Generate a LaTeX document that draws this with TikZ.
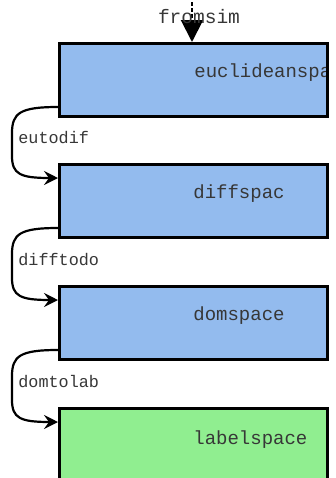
\documentclass[tikz,border=0pt]{standalone}
\usepackage{fontspec}
\newfontfamily\mono{Liberation Mono}
\usetikzlibrary{arrows.meta,calc}
\definecolor{boxblue}{RGB}{147,187,238}
\definecolor{boxgreen}{RGB}{144,238,144}
\definecolor{txt}{RGB}{55,55,55}
\tikzset{
  spacebox/.style={draw=black, line width=1.5pt, fill=boxblue, minimum width=134pt, minimum height=36.5pt, inner sep=0pt, anchor=north west},
  boxtext/.style={anchor=west, inner sep=0pt, font=\mono\fontsize{9.5pt}{11pt}\selectfont, text=txt},
  edgelabel/.style={anchor=west, inner sep=0pt, font=\mono\fontsize{8.4pt}{10pt}\selectfont, text=txt},
  flow/.style={draw=black, line width=1.1pt, -{Stealth[length=7pt,width=7pt,inset=2.5pt]}},
}
\begin{document}
\begin{tikzpicture}[x=0.5pt,y=-0.5pt]
\useasboundingbox (0,0) rectangle (336,478);
\node[spacebox] (b1) at (58,42) {};
\node[spacebox] (b2) at (58,163) {};
\node[spacebox] (b3) at (58,285) {};
\node[spacebox, fill=boxgreen] (b4) at (58,407) {};
\begin{scope}
\clip (58,42) rectangle (325,114);
\node[boxtext] (t1) at (194,73) {euclideanspace};
\end{scope}
\node[boxtext] (t2) at (193,194) {diffspac};
\node[boxtext] (t3) at (193,316) {domspace};
\node[boxtext] (t4) at (193,440) {labelspace};
% incoming arrow
\coordinate (top) at (192,2);
\draw[line width=1pt, dash pattern=on 2pt off 1pt, -{Triangle[length=11pt,width=11pt]}] (top) -- (top |- b1.north);
\node[font=\mono\fontsize{9.75pt}{11pt}\selectfont, text=txt, inner sep=0pt] (fs) at (199,17) {fromsim};
% connectors
\foreach \a/\b/\lab/\ly in {b1/b2/eutodif/138, b2/b3/difftodo/260, b3/b4/domtolab/382}{
  \coordinate (s) at ($(\a.south west)+(0,-11)$);
  \coordinate (e) at ($(\b.north west)+(0,15)$);
  \draw[flow] (s) .. controls ($(s)+(-38,0)$) and ($(s)+(-46,6)$) .. ($(s)+(-46,26)$)
     -- ($(e)+(-46,-22)$) .. controls ($(e)+(-46,-4)$) and ($(e)+(-38,0)$) .. (e);
  \node[edgelabel] at (18,\ly) {\lab};
}
\end{tikzpicture}
\end{document}
